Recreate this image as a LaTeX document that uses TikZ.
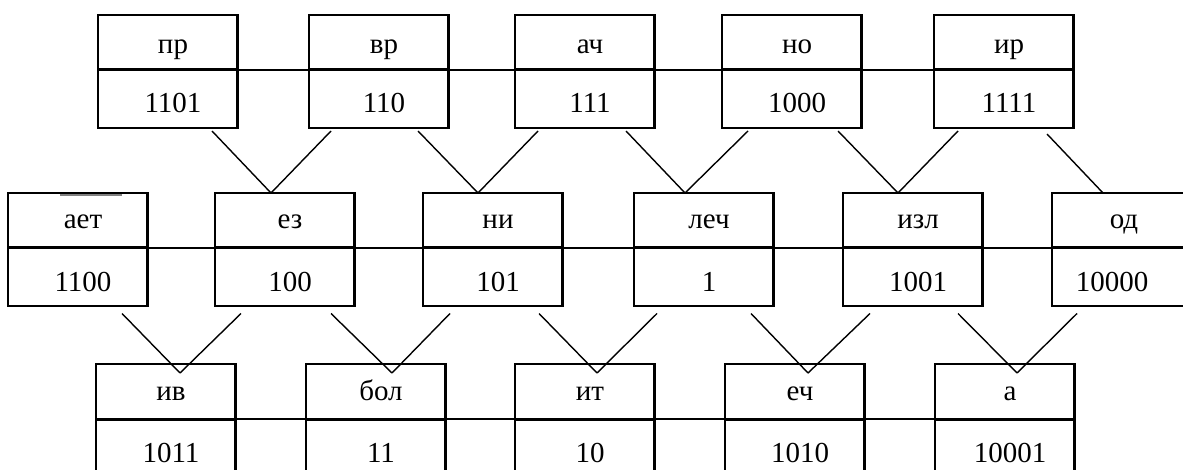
\documentclass[tikz,border=0pt]{standalone}
\usepackage{fontspec}
\setmainfont{Liberation Serif}
\usetikzlibrary{calc}
\tikzset{
  box/.style={draw, line width=2.2pt, minimum width=139.5pt, minimum height=113pt, inner sep=0pt, outer sep=0pt, anchor=north west},
  tallbox/.style={box, minimum height=130pt},
  widebox/.style={box, minimum width=150pt},
  txt/.style={anchor=base, inner sep=0pt, outer sep=0pt, font=\fontsize{29}{31}\selectfont},
  splitline/.style={line width=3pt},
  rowline/.style={line width=1.7pt},
  conn/.style={line width=1.4pt},
}
\newcommand{\mkcell}[7]{%
  % #1 name, #2 style, #3 left x, #4 top y, #5 label, #6 number, #7 label baseline offset
  \node[#2] (#1) at (#3,#4) {};
  \node[txt] (#1-l) at ($(#1.north west)+(75,#7)$) {#5};
  \node[txt] (#1-n) at ($(#1.north west)+(75,98)$) {#6};
  \draw[splitline] ($(#1.north west)+(0,55)$) -- ($(#1.north east)+(0,55)$);
}
\begin{document}
\begin{tikzpicture}[x=1pt,y=-1pt]
\useasboundingbox (0,0) rectangle (1183,470);
\clip (0,0) rectangle (1183,470);
\fill[white] (0,0) rectangle (1183,470);

% row lines
\coordinate (t-start) at (98,70);
\coordinate (m-start) at (8,248);
\coordinate (b-start) at (96,419);

% top row
\mkcell{pr}{box}{98}{15}{пр}{1101}{39}
\mkcell{vr}{box}{309}{15}{вр}{110}{39}
\mkcell{ach}{box}{515}{15}{ач}{111}{39}
\mkcell{no}{box}{722}{15}{но}{1000}{39}
\mkcell{ir}{box}{934}{15}{ир}{1111}{39}
\draw[rowline] (pr.east |- t-start) -- (ir.west |- t-start);

% middle row
\mkcell{aet}{box}{8}{193}{ает}{1100}{36}
\mkcell{ez}{box}{215}{193}{ез}{100}{36}
\mkcell{ni}{box}{423}{193}{ни}{101}{36}
\mkcell{lech}{box}{634}{193}{леч}{1}{36}
\mkcell{izl}{box}{843}{193}{изл}{1001}{36}
\node[widebox] (od) at (1052,193) {};
\node[txt] (od-l) at (1124,229) {од};
\node[txt] (od-n) at (1112,291) {10000};
\draw[splitline] ($(od.north west)+(0,55)$) -- ($(od.north east)+(0,55)$);
\draw[rowline] (aet.east |- m-start) -- (ez.west |- m-start);
\draw[rowline] (ez.east |- m-start) -- (ni.west |- m-start);
\draw[rowline] (ni.east |- m-start) -- (lech.west |- m-start);
\draw[rowline] (lech.east |- m-start) -- (izl.west |- m-start);
\draw[rowline] (izl.east |- m-start) -- (od.west |- m-start);
\draw[gray, line width=1.3pt] ($(aet.north west)+(52,2)$) -- ($(aet.north west)+(114,2)$);

% bottom row
\mkcell{iv}{tallbox}{96}{364}{ив}{1011}{36}
\mkcell{bol}{tallbox}{306}{364}{бол}{11}{36}
\mkcell{it}{tallbox}{515}{364}{ит}{10}{36}
\mkcell{ech}{tallbox}{725}{364}{еч}{1010}{36}
\mkcell{a}{tallbox}{935}{364}{а}{10001}{36}
\draw[rowline] (iv.east |- b-start) -- (bol.west |- b-start);
\draw[rowline] (bol.east |- b-start) -- (it.west |- b-start);
\draw[rowline] (it.east |- b-start) -- (ech.west |- b-start);
\draw[rowline] (ech.east |- b-start) -- (a.west |- b-start);

% apexes
\coordinate (ez-ap) at ([shift={(56,0)}]ez.north west);
\coordinate (ni-ap) at ([shift={(55,0)}]ni.north west);
\coordinate (lech-ap) at ([shift={(51,0)}]lech.north west);
\coordinate (izl-ap) at ([shift={(55,0)}]izl.north west);
\coordinate (od-ap) at ([shift={(51,0)}]od.north west);
\coordinate (iv-ap) at ([shift={(84,9)}]iv.north west);
\coordinate (bol-ap) at ([shift={(86,9)}]bol.north west);
\coordinate (it-ap) at ([shift={(82,9)}]it.north west);
\coordinate (ech-ap) at ([shift={(83,9)}]ech.north west);
\coordinate (a-ap) at ([shift={(82,9)}]a.north west);

% top -> middle connectors
\draw[conn] ([shift={(114,3)}]pr.south west) -- (ez-ap);
\draw[conn] ([shift={(22,3)}]vr.south west) -- (ez-ap);
\draw[conn] ([shift={(109,3)}]vr.south west) -- (ni-ap);
\draw[conn] ([shift={(23,3)}]ach.south west) -- (ni-ap);
\draw[conn] ([shift={(111,3)}]ach.south west) -- (lech-ap);
\draw[conn] ([shift={(26,3)}]no.south west) -- (lech-ap);
\draw[conn] ([shift={(116,3)}]no.south west) -- (izl-ap);
\draw[conn] ([shift={(24,3)}]ir.south west) -- (izl-ap);
\draw[conn] ([shift={(113,6)}]ir.south west) -- (od-ap);

% middle -> bottom connectors
\draw[conn] ([shift={(114,7.5)}]aet.south west) -- (iv-ap);
\draw[conn] ([shift={(26,7.5)}]ez.south west) -- (iv-ap);
\draw[conn] ([shift={(116,7.5)}]ez.south west) -- (bol-ap);
\draw[conn] ([shift={(27,7.5)}]ni.south west) -- (bol-ap);
\draw[conn] ([shift={(116,7.5)}]ni.south west) -- (it-ap);
\draw[conn] ([shift={(23,7.5)}]lech.south west) -- (it-ap);
\draw[conn] ([shift={(117,7.5)}]lech.south west) -- (ech-ap);
\draw[conn] ([shift={(27,7.5)}]izl.south west) -- (ech-ap);
\draw[conn] ([shift={(115,7.5)}]izl.south west) -- (a-ap);
\draw[conn] ([shift={(25,7.5)}]od.south west) -- (a-ap);
\end{tikzpicture}
\end{document}
